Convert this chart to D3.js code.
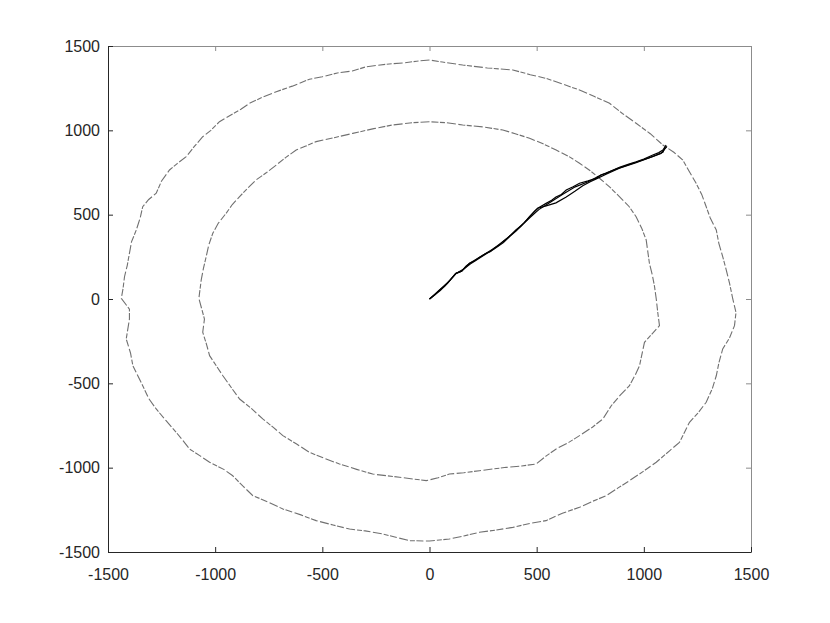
<!DOCTYPE html>
<html>
<head>
<meta charset="utf-8">
<script src="https://cdn.jsdelivr.net/npm/d3@7"></script>
<style>
  body { margin: 0; background: #fff; }
  .axis text { font-family: "Liberation Sans", Arial, sans-serif; font-size: 16px; fill: #262626; }
</style>
</head>
<body>
<div id="chart"></div>
<script>
var xTicks = [-1500, -1000, -500, 0, 500, 1000, 1500];
var yTicks = [-1500, -1000, -500, 0, 500, 1000, 1500];

// outer ring
var outerRing = [
  [0, 1417], [-60, 1410], [-120, 1400], [-200, 1392], [-295, 1377], [-360, 1352], [-430, 1340],
  [-500, 1318], [-560, 1303], [-640, 1262], [-715, 1229], [-780, 1196], [-840, 1160], [-880, 1125],
  [-915, 1100], [-980, 1051], [-1020, 1000], [-1058, 962], [-1100, 900], [-1135, 844],
  [-1180, 800], [-1213, 765], [-1250, 700], [-1275, 627], [-1310, 590], [-1338, 547],
  [-1350, 480], [-1368, 409], [-1390, 340], [-1400, 271], [-1410, 200], [-1423, 132],
  [-1430, 60], [-1438, 4], [-1400, -60], [-1400, -119], [-1415, -237], [-1395, -320],
  [-1384, -395], [-1338, -514], [-1310, -590], [-1275, -652], [-1230, -720], [-1182, -790],
  [-1150, -840], [-1120, -889], [-1070, -930], [-1026, -968], [-960, -1010], [-918, -1048],
  [-870, -1110], [-824, -1166], [-750, -1205], [-684, -1245], [-600, -1280], [-529, -1314],
  [-450, -1340], [-373, -1364], [-300, -1375], [-218, -1393], [-150, -1415], [-93, -1433],
  [0, -1435], [93, -1423], [160, -1405], [233, -1383], [310, -1370], [389, -1354],
  [470, -1330], [544, -1314], [620, -1270], [700, -1235], [760, -1200], [824, -1166],
  [880, -1120], [933, -1077], [1000, -1020], [1058, -968], [1120, -900], [1166, -850],
  [1190, -790], [1213, -731], [1250, -680], [1291, -612], [1320, -530], [1338, -455],
  [1350, -380], [1368, -296], [1400, -230], [1423, -158], [1430, -80], [1415, 0],
  [1400, 93], [1385, 170], [1368, 251], [1350, 330], [1338, 409], [1310, 480], [1291, 547],
  [1270, 620], [1244, 686], [1210, 760], [1182, 824], [1140, 870], [1089, 913], [1030, 980],
  [964, 1042], [900, 1100], [840, 1160], [770, 1200], [700, 1239], [620, 1275], [544, 1308],
  [470, 1330], [389, 1358], [270, 1370], [155, 1387], [60, 1405], [0, 1417]
];

// inner ring
var innerRing = [
  [0, 1051], [-80, 1045], [-171, 1032], [-260, 1010], [-358, 982], [-440, 958], [-529, 933],
  [-580, 905], [-622, 883], [-670, 840], [-715, 794], [-760, 750], [-809, 706], [-850, 655],
  [-886, 607], [-920, 560], [-949, 508], [-985, 450], [-1011, 390], [-1030, 320],
  [-1042, 251], [-1055, 180], [-1065, 113], [-1076, 4], [-1050, -119], [-1058, -197],
  [-1040, -270], [-1026, -336], [-964, -455], [-925, -525], [-886, -593], [-830, -650],
  [-778, -711], [-730, -760], [-684, -810], [-620, -860], [-560, -909], [-490, -945],
  [-420, -978], [-340, -1010], [-265, -1038], [-140, -1057], [-15, -1077], [40, -1060],
  [93, -1038], [160, -1030], [233, -1018], [358, -998], [430, -990], [498, -978],
  [545, -930], [591, -889], [650, -850], [700, -810], [760, -760], [809, -711], [848, -633],
  [890, -570], [933, -514], [960, -450], [980, -395], [1003, -257], [1073, -158],
  [1065, -80], [1058, 0], [1050, 73], [1040, 140], [1026, 212], [1011, 350], [990, 420],
  [964, 488], [930, 550], [886, 607], [840, 665], [793, 716], [750, 760], [700, 805],
  [650, 845], [591, 883], [530, 920], [467, 953], [400, 980], [342, 1002], [250, 1020],
  [155, 1032], [80, 1045], [0, 1051]
];

// trajectories from the origin
var strand1 = [
  [0, 0], [25, 25], [47, 53], [70, 75], [95, 110], [124, 152], [150, 165], [170, 195],
  [187, 212], [210, 225], [230, 245], [264, 271], [285, 282], [300, 300], [320, 315],
  [342, 340], [365, 362], [380, 380], [404, 409], [425, 430], [440, 450], [455, 470],
  [467, 488], [490, 520], [505, 538], [544, 567], [570, 585], [590, 605], [615, 620],
  [638, 646], [670, 665], [700, 686], [740, 700], [778, 716], [800, 735], [824, 745],
  [850, 760], [886, 781], [930, 800], [964, 814], [1000, 830], [1042, 854], [1070, 868],
  [1089, 883], [1104, 913]
];
var strand2 = [
  [0, 0], [47, 53], [95, 110], [124, 152], [150, 165], [187, 212], [230, 245], [264, 271],
  [300, 300], [342, 340], [380, 380], [404, 409], [440, 450], [467, 488], [505, 538],
  [544, 552], [590, 570], [638, 605], [680, 640], [715, 672], [750, 695], [778, 712],
  [824, 740], [886, 775], [964, 808], [1042, 845], [1089, 870], [1100, 900]
];
var strand3 = [
  [0, 0], [50, 50], [85, 95], [120, 148], [160, 178], [190, 208], [265, 268], [300, 295],
  [345, 335], [375, 372], [405, 405], [440, 448], [470, 485], [510, 530], [560, 570],
  [620, 620], [680, 665], [740, 695], [800, 735], [870, 770], [950, 805], [1030, 840],
  [1080, 862], [1108, 905]
];

var marginLeft = 108, marginTop = 46,
    width = 643, height = 506;

var svg = d3.select('#chart').append('svg')
  .attr('width', 830)
  .attr('height', 623);

var x = d3.scaleLinear().domain([-1500, 1500]).range([0, width]),
    y = d3.scaleLinear().domain([-1500, 1500]).range([height, 0]);

var g = svg.append('g')
  .attr('transform', 'translate(' + marginLeft + ',' + marginTop + ')');

var line = d3.line()
  .x(function(d) { return x(d[0]); })
  .y(function(d) { return y(d[1]); });

[outerRing, innerRing].forEach(function(ring) {
  g.append('path')
    .datum(ring)
    .attr('fill', 'none')
    .attr('stroke', '#707070')
    .attr('stroke-width', 1.1)
    .attr('stroke-dasharray', '9,2,5,1.5,7,2.5')
    .attr('d', line);
});

[strand1, strand2, strand3].forEach(function(s) {
  g.append('path')
    .datum(s)
    .attr('fill', 'none')
    .attr('stroke', '#000')
    .attr('stroke-width', 1.2)
    .attr('d', line);
});

var fmt = function(d) { return String(d); };

// box: top and right in grey, ticks pointing inward
g.append('g')
  .attr('class', 'axis')
  .call(d3.axisTop(x).tickValues(xTicks).tickSizeInner(-5).tickSizeOuter(0).tickFormat(''))
  .call(function(a) { a.selectAll('line, path').attr('stroke', '#8c8c8c'); });

g.append('g')
  .attr('class', 'axis')
  .attr('transform', 'translate(' + width + ',0)')
  .call(d3.axisRight(y).tickValues(yTicks).tickSizeInner(-5).tickSizeOuter(0).tickFormat(''))
  .call(function(a) { a.selectAll('line, path').attr('stroke', '#8c8c8c'); });

g.append('g')
  .attr('class', 'axis')
  .attr('transform', 'translate(0,' + height + ')')
  .call(d3.axisBottom(x).tickValues(xTicks).tickFormat(fmt).tickSizeInner(-5).tickSizeOuter(0).tickPadding(17))
  .call(function(a) { a.selectAll('line, path').attr('stroke', '#262626'); });

g.append('g')
  .attr('class', 'axis')
  .call(d3.axisLeft(y).tickValues(yTicks).tickFormat(fmt).tickSizeInner(-5).tickSizeOuter(0).tickPadding(8))
  .call(function(a) { a.selectAll('line, path').attr('stroke', '#262626'); });
</script>
</body>
</html>
